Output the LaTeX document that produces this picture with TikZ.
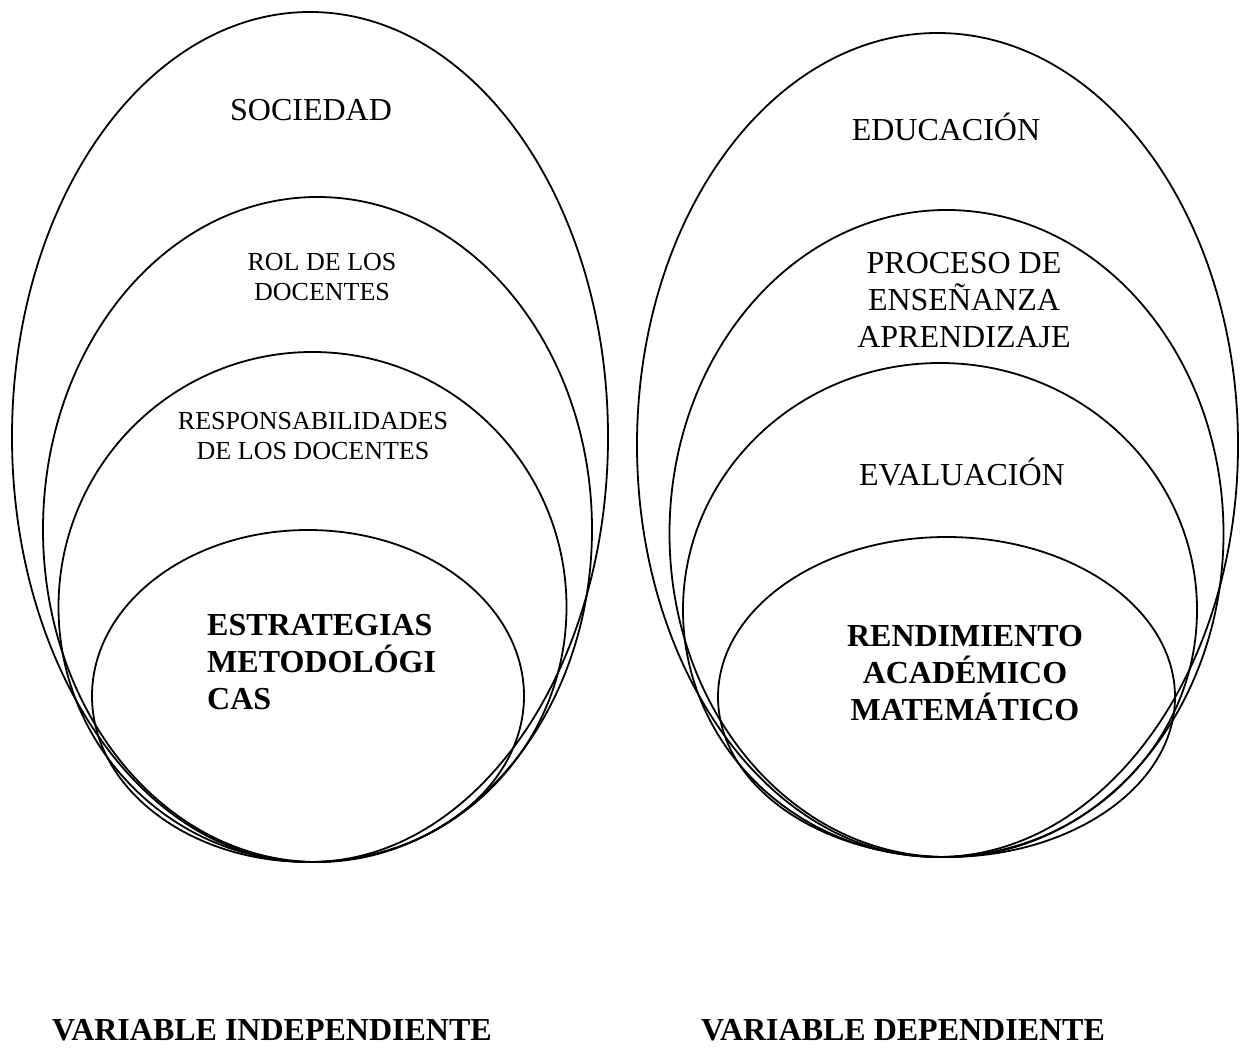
\documentclass[tikz,border=0pt]{standalone}
\usepackage{fontspec}
\setmainfont{Liberation Serif}
\usetikzlibrary{shapes.geometric}
\tikzset{
  ring/.style={draw, ellipse, inner sep=0pt, outer sep=0pt, line width=1.8pt},
  big/.style={font=\fontsize{32}{37}\selectfont, align=center, inner sep=0pt},
  small/.style={font=\fontsize{26}{30}\selectfont, align=center, inner sep=0pt},
  bigb/.style={font=\fontsize{32}{37}\selectfont\bfseries, inner sep=0pt},
}
\begin{document}
\begin{tikzpicture}[x=1pt,y=-1pt]
\useasboundingbox (0,0) rectangle (1248,1064);
% left group
\node[ring, minimum width=596pt, minimum height=850pt] (l1) at (310,437) {};
\node[ring, minimum width=549pt, minimum height=665pt] (l2) at (317.5,529.5) {};
\node[ring, minimum width=508pt, minimum height=510pt] (l3) at (312.5,607) {};
\node[ring, minimum width=432pt, minimum height=332pt] (l4) at (308,696) {};
% right group
\node[ring, minimum width=601pt, minimum height=824pt] (r1) at (937.5,445) {};
\node[ring, minimum width=554pt, minimum height=647pt] (r2) at (946.5,533.5) {};
\node[ring, minimum width=514pt, minimum height=494pt] (r3) at (940,610) {};
\node[ring, minimum width=457pt, minimum height=320pt] (r4) at (946.5,697) {};
% labels left
\node[big] (t1) at (311,110) {SOCIEDAD};
\node[small] (t2) at (322,277) {ROL DE LOS\\DOCENTES};
\node[small] (t3) at (313,436) {RESPONSABILIDADES\\DE LOS DOCENTES};
\node[bigb, align=left, anchor=north west] (t4) at (207,614) {ESTRATEGIAS\\METODOLÓGI\\CAS};
% labels right
\node[big] (u1) at (946,127) {EDUCACIÓN};
\node[big] (u2) at (964,300) {PROCESO DE\\ENSEÑANZA\\APRENDIZAJE};
\node[big] (u3) at (962,472) {EVALUACIÓN};
\node[bigb, align=center] (u4) at (965,673) {RENDIMIENTO\\ACADÉMICO\\MATEMÁTICO};
% bottom
\node[bigb] (v1) at (272,1030) {VARIABLE INDEPENDIENTE};
\node[bigb] (v2) at (903,1030) {VARIABLE DEPENDIENTE};
\end{tikzpicture}
\end{document}
